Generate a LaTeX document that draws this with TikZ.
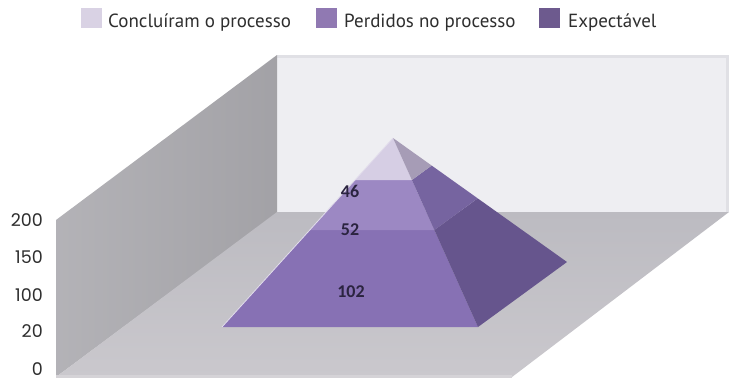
\documentclass[tikz,border=0pt]{standalone}
\usepackage{fontspec}
\setmainfont{PT Sans}
\newfontfamily\numfont{Poppins}
\newfontfamily\lblfont{Carlito}
\usetikzlibrary{calc}
\definecolor{leftwall}{HTML}{ABAAAF}
\definecolor{backwall}{HTML}{EEEEF2}
\definecolor{backtop}{HTML}{E0E0E5}
\definecolor{floortop}{HTML}{BCBBC1}
\definecolor{floorbot}{HTML}{CAC8CD}
\definecolor{ftop}{HTML}{D6CEE4}
\definecolor{fmid}{HTML}{9C88C3}
\definecolor{fbot}{HTML}{8771B4}
\definecolor{rtop}{HTML}{A69CB6}
\definecolor{rmid}{HTML}{7664A0}
\definecolor{rbot}{HTML}{66558D}
\definecolor{legA}{HTML}{D9D2E4}
\definecolor{legB}{HTML}{9079B2}
\definecolor{legC}{HTML}{6D5A8E}
\definecolor{txt}{HTML}{2E2E2E}
\definecolor{lbl}{HTML}{2B2440}
\tikzset{
  legsq/.style={minimum width=21pt,minimum height=20pt,inner sep=0pt,draw=none},
  legtxt/.style={anchor=base west,inner sep=0pt,text=txt,font=\fontsize{19}{21}\selectfont},
  axlbl/.style={anchor=base east,inner sep=0pt,text=txt,font=\numfont\fontsize{17.5}{19}\selectfont},
  pylbl/.style={anchor=base,inner sep=0pt,text=lbl,font=\lblfont\bfseries\fontsize{18}{19}\selectfont}
}
\begin{document}
\begin{tikzpicture}[x=1pt,y=-1pt]
\useasboundingbox (0,0) rectangle (736,384);
\fill[white] (0,0) rectangle (736,384);
% walls and floor
\fill[backwall] (277,55) rectangle (729,212);
\fill[backtop] (277,55) rectangle (729,58);
\fill[backtop] (726,55) rectangle (729,212);
\shade[left color=leftwall!90!white,right color=leftwall!95!black] (56,220) -- (277,55) -- (277,213) -- (56,377) -- cycle;
\shade[top color=floortop,bottom color=floorbot] (56,377) -- (277,212) -- (729,212) -- (512,377) -- cycle;
\fill[floorbot!80!white] (56,375) -- (512,375) -- (512,378) -- (56,378) -- cycle;
% pyramid
\coordinate (A) at (393,138);
\coordinate (BL) at (222,327);
\coordinate (BR) at (478,327);
\coordinate (RB) at (567,262);
\coordinate (L1) at ($(A)!0.2222!(BL)$);
\coordinate (M1) at ($(A)!0.2222!(BR)$);
\coordinate (R1) at ($(A)!0.2222!(RB)$);
\coordinate (L2) at ($(A)!0.4868!(BL)$);
\coordinate (M2) at ($(A)!0.4868!(BR)$);
\coordinate (R2) at ($(A)!0.4868!(RB)$);
\fill[fbot] (L2) -- (M2) -- (BR) -- (BL) -- cycle;
\fill[fmid] (L1) -- (M1) -- (M2) -- (L2) -- cycle;
\fill[ftop] (A) -- (M1) -- (L1) -- cycle;
\fill[rbot] (M2) -- (R2) -- (RB) -- (BR) -- cycle;
\fill[rmid] (M1) -- (R1) -- (R2) -- (M2) -- cycle;
\fill[rtop] (A) -- (R1) -- (M1) -- cycle;
\draw[ftop!70!white,line width=0.8pt] (A) -- (BL);
% pyramid labels
\node[pylbl] (v46) at (350,197) {46};
\node[pylbl] (v52) at (350,235) {52};
\node[pylbl] (v102) at (351,297) {102};
% axis labels
\node[axlbl] (y200) at (43,226) {200};
\node[axlbl] (y150) at (43,263) {150};
\node[axlbl] (y100) at (43,301) {100};
\node[axlbl] (y20) at (43,337) {20};
\node[axlbl] (y0) at (43,375) {0};
% legend
\node[legsq,fill=legA] (sqA) at (91.5,18) {};
\node[legtxt] (tA) at (108,27) {Concluíram o processo};
\node[legsq,fill=legB] (sqB) at (326.5,18) {};
\node[legtxt] (tB) at (344,27) {Perdidos no processo};
\node[legsq,fill=legC] (sqC) at (549.5,18) {};
\node[legtxt] (tC) at (568,27) {Expectável};
\end{tikzpicture}
\end{document}
